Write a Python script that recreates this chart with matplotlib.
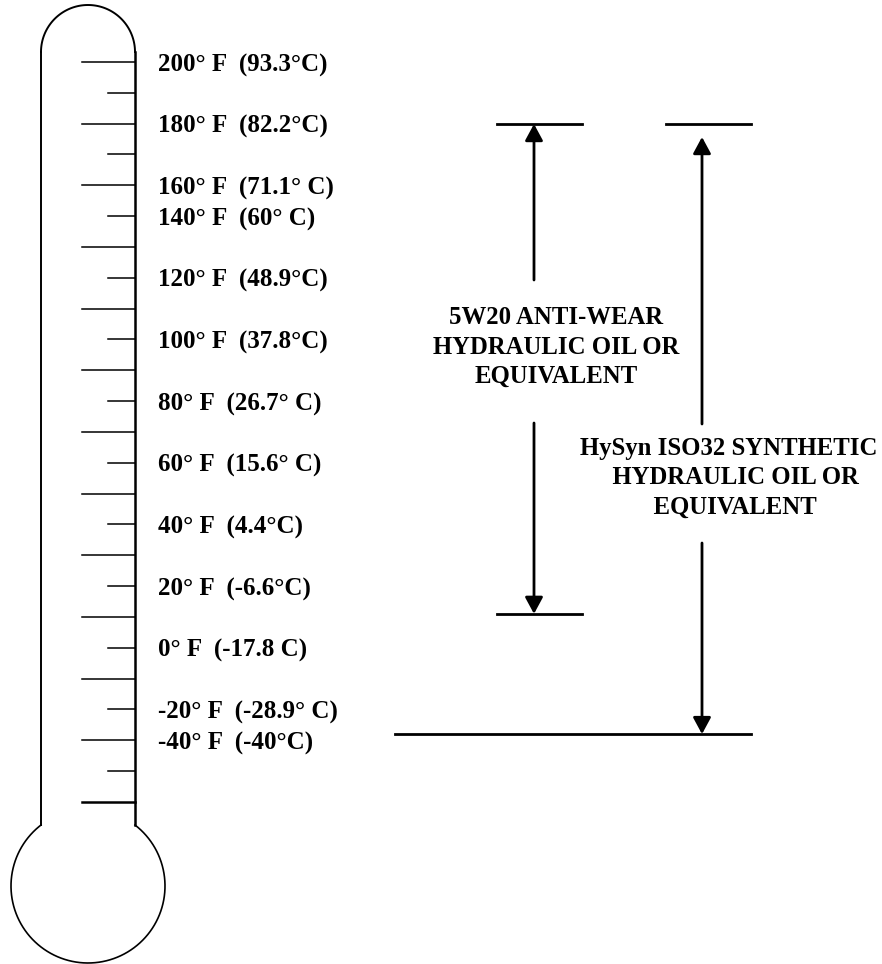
import numpy as np
import matplotlib
matplotlib.use('Agg')
import matplotlib.pyplot as plt

# Temperature labels on the thermometer scale
fahrenheit = [200, 180, 160, 140, 120, 100, 80, 60, 40, 20, 0, -20, -40]
celsius = ['(93.3°C)', '(82.2°C)', '(71.1° C)', '(60° C)', '(48.9°C)', '(37.8°C)',
           '(26.7° C)', '(15.6° C)', '(4.4°C)', '(-6.6°C)', '(-17.8 C)',
           '(-28.9° C)', '(-40°C)']
label_tick = [0, 2, 4, 5, 7, 9, 11, 13, 15, 17, 19, 21, 22]  # which scale tick each label sits on
n_ticks = 25

# Oil ranges: label, top tick, bottom tick
oil_names = ['5W20 ANTI-WEAR\nHYDRAULIC OIL OR\nEQUIVALENT',
             'HySyn ISO32 SYNTHETIC\n  HYDRAULIC OIL OR\n  EQUIVALENT']
oil_top = [2.0, 2.0]
oil_bottom = [17.9, 21.8]

# Layout (pixel space)
W, H = 882, 964
stem_l, stem_r = 41, 135
tick0, tick_step = 62, 30.83
font = 'Liberation Serif'

fig = plt.figure(figsize=(W / 100, H / 100), dpi=100)
ax = fig.add_axes([0, 0, 1, 1])
ax.set_xlim(0, W)
ax.set_ylim(H, 0)
ax.axis('off')


def tick_y(t):
    return tick0 + t * tick_step


# thermometer outline (y grows downward here)
cx = (stem_l + stem_r) / 2
r_top = (stem_r - stem_l) / 2
top_y = 52
th = np.linspace(np.pi, 2 * np.pi, 100)
ax.plot(cx + r_top * np.cos(th), top_y + r_top * np.sin(th), color='black', lw=1.4)

bulb_c, bulb_r = 886, 77
join_y = bulb_c - np.sqrt(bulb_r**2 - r_top**2)
ax.plot([stem_l, stem_l], [top_y, join_y], color='black', lw=1.4)
ax.plot([stem_r, stem_r], [top_y, join_y], color='black', lw=1.8)
a0 = np.arccos(r_top / bulb_r)
th = np.linspace(-a0, np.pi + a0, 300)
ax.plot(cx + bulb_r * np.cos(th), bulb_c + bulb_r * np.sin(th),
        color='black', lw=1.2)

# scale ticks
for t in range(n_ticks):
    y = tick_y(t)
    x0 = 82 if t % 2 == 0 else 108
    lw = 1.8 if t == n_ticks - 1 else 1.1
    ax.plot([x0, stem_r], [y, y], color='black', lw=lw)

# labels
for f, c, t in zip(fahrenheit, celsius, label_tick):
    ax.text(158, tick_y(t) + 3, f'{f}° F  {c}', fontsize=18, fontweight='bold',
            family=font, ha='left', va='center')

# oil range brackets
arrow_x = [534, 702]
bar_x = [(497, 582), (666, 751)]
bottom_bar_x = [(497, 582), (395, 751)]
gap = [(280, 423), (424, 543)]
text_xy = [(556, 347), (729, 478)]
top_tip = [124, 137]
astyle = '-|>,head_length=0.5,head_width=0.27'
for i in range(2):
    yt = tick_y(oil_top[i])
    yb = tick_y(oil_bottom[i])
    ax.plot(bar_x[i], [yt, yt], color='black', lw=2)
    ax.plot(bottom_bar_x[i], [yb, yb], color='black', lw=2)
    ax.annotate('', xy=(arrow_x[i], top_tip[i]), xytext=(arrow_x[i], gap[i][0]),
                arrowprops=dict(arrowstyle=astyle, mutation_scale=20, lw=2,
                                color='black', shrinkA=0, shrinkB=0))
    ax.annotate('', xy=(arrow_x[i], yb), xytext=(arrow_x[i], gap[i][1]),
                arrowprops=dict(arrowstyle=astyle, mutation_scale=20, lw=2,
                                color='black', shrinkA=0, shrinkB=0))
    ax.text(text_xy[i][0], text_xy[i][1], oil_names[i], fontsize=17.8,
            fontweight='bold', family=font, ha='center', va='center',
            multialignment='center', linespacing=1.36)

fig.savefig('out.png', dpi=100)
